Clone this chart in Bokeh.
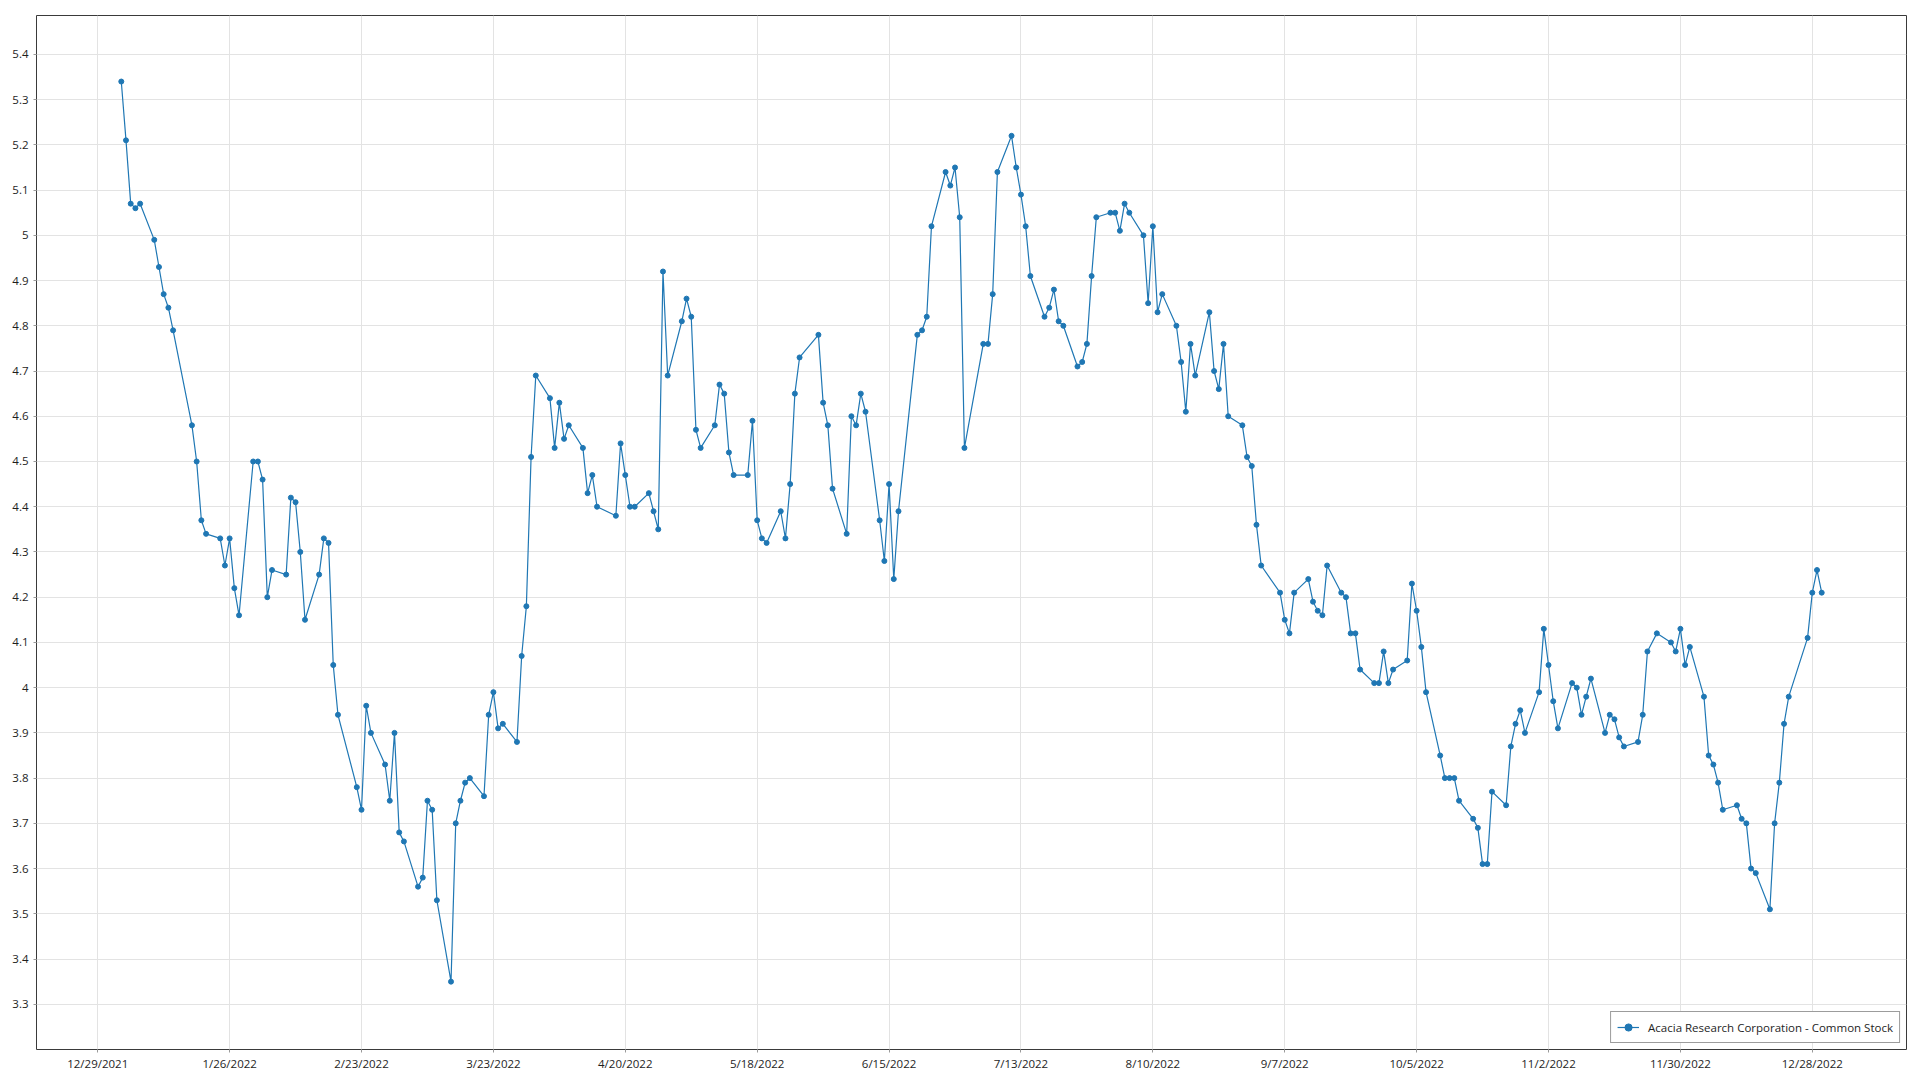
import pandas as pd
from bokeh.plotting import figure
from bokeh.models import (ColumnDataSource, FixedTicker, CustomJSTickFormatter,
                          Range1d, Legend, LegendItem)
from bokeh.embed import file_html
from bokeh.resources import INLINE

# ---------------- data ----------------
series_name = "Acacia Research Corporation - Common Stock"

market_holidays = ["2022-01-17", "2022-02-21", "2022-04-15", "2022-05-30", "2022-06-20",
                   "2022-07-04", "2022-09-05", "2022-11-24", "2022-12-26"]

jan = [5.34, 5.21, 5.07, 5.06, 5.07, 4.99, 4.93, 4.87, 4.84, 4.79, 4.58, 4.50, 4.37, 4.34,
       4.33, 4.27, 4.33, 4.22, 4.16, 4.50]
feb = [4.50, 4.46, 4.20, 4.26, 4.25, 4.42, 4.41, 4.30, 4.15, 4.25, 4.33, 4.32, 4.05, 3.94,
       3.78, 3.73, 3.96, 3.90, 3.83]
mar = [3.75, 3.90, 3.68, 3.66, 3.56, 3.58, 3.75, 3.73, 3.53, 3.35, 3.70, 3.75, 3.79, 3.80,
       3.76, 3.94, 3.99, 3.91, 3.92, 3.88, 4.07, 4.18, 4.51]
apr = [4.69, 4.64, 4.53, 4.63, 4.55, 4.58, 4.53, 4.43, 4.47, 4.40, 4.38, 4.54, 4.47, 4.40,
       4.40, 4.43, 4.39, 4.35, 4.92, 4.69]
may = [4.81, 4.86, 4.82, 4.57, 4.53, 4.58, 4.67, 4.65, 4.52, 4.47, 4.47, 4.59, 4.37, 4.33,
       4.32, 4.39, 4.33, 4.45, 4.65, 4.73, 4.78]
jun = [4.63, 4.58, 4.44, 4.34, 4.60, 4.58, 4.65, 4.61, 4.37, 4.28, 4.45, 4.24, 4.39, 4.78,
       4.79, 4.82, 5.02, 5.14, 5.11, 5.15, 5.04]
jul = [4.53, 4.76, 4.76, 4.87, 5.14, 5.22, 5.15, 5.09, 5.02, 4.91, 4.82, 4.84, 4.88, 4.81,
       4.80, 4.71, 4.72, 4.76, 4.91, 5.04]
aug = [5.05, 5.05, 5.01, 5.07, 5.05, 5.00, 4.85, 5.02, 4.83, 4.87, 4.80, 4.72, 4.61, 4.76,
       4.69, 4.83, 4.70, 4.66, 4.76, 4.60, 4.58, 4.51, 4.49]
sep = [4.36, 4.27, 4.21, 4.15, 4.12, 4.21, 4.24, 4.19, 4.17, 4.16, 4.27, 4.21, 4.20, 4.12,
       4.12, 4.04, 4.01, 4.01, 4.08, 4.01, 4.04]
oct_ = [4.06, 4.23, 4.17, 4.09, 3.99, 3.85, 3.80, 3.80, 3.80, 3.75, 3.71, 3.69, 3.61, 3.61,
        3.77, 3.74, 3.87, 3.92, 3.95, 3.90, 3.99]
nov = [4.13, 4.05, 3.97, 3.91, 4.01, 4.00, 3.94, 3.98, 4.02, 3.90, 3.94, 3.93, 3.89, 3.87,
       3.88, 3.94, 4.08, 4.12, 4.10, 4.08, 4.13]
dec = [4.05, 4.09, 3.98, 3.85, 3.83, 3.79, 3.73, 3.74, 3.71, 3.70, 3.60, 3.59, 3.51, 3.70,
       3.79, 3.92, 3.98, 4.11, 4.21, 4.26, 4.21]

x_tick_dates = ["2021-12-29", "2022-01-26", "2022-02-23", "2022-03-23", "2022-04-20",
                "2022-05-18", "2022-06-15", "2022-07-13", "2022-08-10", "2022-09-07",
                "2022-10-05", "2022-11-02", "2022-11-30", "2022-12-28"]
y_ticks = [3.3, 3.4, 3.5, 3.6, 3.7, 3.8, 3.9, 4.0, 4.1, 4.2, 4.3, 4.4, 4.5, 4.6, 4.7,
           4.8, 4.9, 5.0, 5.1, 5.2, 5.3, 5.4]

# ---------------- build ----------------
close = jan + feb + mar + apr + may + jun + jul + aug + sep + oct_ + nov + dec
dates = pd.bdate_range("2022-01-03", "2022-12-30", freq="C", holidays=market_holidays)
assert len(dates) == len(close)

src = ColumnDataSource(dict(date=dates, close=close))

pad = pd.Timedelta(days=18)
x_start = dates[0] - pad
x_end = dates[-1] + pad

FONT = "Open Sans"
LINE_COLOR = "#1f77b4"

p = figure(width=1912, height=1075, x_axis_type="datetime",
           output_backend="svg", toolbar_location=None,
           x_range=Range1d(x_start, x_end), y_range=Range1d(3.2, 5.486),
           min_border_left=36, min_border_right=6, min_border_top=15, min_border_bottom=26)

p.background_fill_color = "white"
p.border_fill_color = "white"
p.outline_line_color = "#3a3a3a"
p.outline_line_width = 1

ln = p.line("date", "close", source=src, line_color=LINE_COLOR, line_width=1.2)
sc = p.scatter("date", "close", source=src, size=5, fill_color=LINE_COLOR,
               line_color=LINE_COLOR)

tick_ms = [pd.Timestamp(s).value / 1e6 for s in x_tick_dates]
p.xaxis.ticker = FixedTicker(ticks=tick_ms)
p.xaxis.formatter = CustomJSTickFormatter(code="""
const d = new Date(tick);
return (d.getUTCMonth() + 1) + '/' + d.getUTCDate() + '/' + d.getUTCFullYear();
""")
p.yaxis.ticker = FixedTicker(ticks=y_ticks)
p.yaxis.formatter = CustomJSTickFormatter(code="return String(Number(tick.toFixed(2)));")

for ax in (p.xaxis, p.yaxis):
    ax.axis_line_color = None
    ax.major_tick_line_color = "#9a9a9a"
    ax.major_tick_out = 3
    ax.major_tick_in = 0
    ax.minor_tick_line_color = None
    ax.major_label_text_font = FONT
    ax.major_label_text_font_size = "11.5px"
    ax.major_label_text_color = "#1e1e1e"
p.xaxis.major_label_standoff = 3
p.yaxis.major_label_standoff = 5

p.xgrid.grid_line_color = "#e3e3e3"
p.ygrid.grid_line_color = "#e3e3e3"
p.xgrid.grid_line_width = 1
p.ygrid.grid_line_width = 1

legend = Legend(items=[LegendItem(label=series_name, renderers=[ln, sc])],
                location="bottom_right")
legend.margin = 6
legend.padding = 6
legend.glyph_width = 22
legend.glyph_height = 18
legend.label_height = 18
legend.label_standoff = 9
legend.label_text_font = FONT
legend.label_text_font_size = "11.5px"
legend.label_text_color = "#1e1e1e"
legend.border_line_color = "#3a3a3a"
legend.border_line_width = 1
legend.background_fill_color = "white"
legend.background_fill_alpha = 1.0
p.add_layout(legend)

open("out.html", "w").write(file_html(p, INLINE))
